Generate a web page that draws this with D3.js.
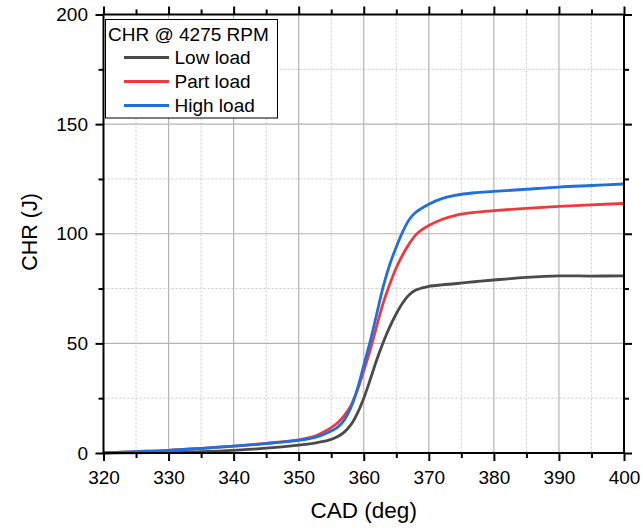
<!DOCTYPE html>
<html>
<head>
<meta charset="utf-8">
<script src="https://cdn.jsdelivr.net/npm/d3@7"></script>
<style>
  html, body { margin: 0; padding: 0; background: #fff; }
  svg { display: block; font-family: "Liberation Sans", Arial, sans-serif; }
</style>
</head>
<body>
<svg id="chart" width="643" height="531"></svg>
<script>
// Crank angle (deg) sample points and cumulative heat release (J) per load case
const cad = [320, 325, 330, 335, 340, 345, 350, 352, 353, 354, 355, 356, 357, 358, 359,
             360, 361, 362, 363, 364, 365, 366, 367, 368, 369, 370, 372, 374, 377, 380,
             385, 390, 395, 400];
const lowLoad = [0, 0.1, 0.3, 0.6, 1.2, 2.2, 3.6, 4.3, 4.8, 5.4, 6.2, 7.5, 9.5, 12.8, 18,
                 25, 33.5, 42.5, 50.5, 57.5, 63.5, 68.5, 72.2, 74.3, 75.3, 76, 76.7, 77.2, 78.1, 78.9,
                 80.1, 80.8, 80.7, 80.8];
const partLoad = [0, 0.6, 1.2, 2.1, 3.1, 4.4, 6, 7.2, 8.3, 9.8, 11.6, 13.8, 17, 21.5, 28.5,
                  37.5, 47, 58, 68.5, 77, 84.5, 90.5, 95.5, 99.5, 102, 103.8, 106.5, 108.3, 109.7, 110.5,
                  111.6, 112.5, 113.2, 113.8];
const highLoad = [0, 0.6, 1.2, 2.1, 3.1, 4.3, 5.8, 6.8, 7.6, 8.7, 10, 11.8, 15, 20.5, 29,
                  40, 51, 63.5, 76, 86, 94, 101, 106.5, 109.8, 111.8, 113.5, 116, 117.5, 118.7, 119.3,
                  120.3, 121.3, 122, 122.7];

const seriesNames = ["Low load", "Part load", "High load"];
const seriesColors = ["#4a4a4a", "#f0393d", "#1f6fde"];
const seriesValues = [lowLoad, partLoad, highLoad];

const xTicks = [320, 330, 340, 350, 360, 370, 380, 390, 400];
const yTicks = [0, 50, 100, 150, 200];
const legendTitle = "CHR @ 4275 RPM";
const xTitle = "CAD (deg)";
const yTitle = "CHR (J)";

const svg = d3.select("#chart");
const plotL = 103.5, plotR = 624, plotT = 14.5, plotB = 453;

const x = d3.scaleLinear().domain([320, 400]).range([plotL, plotR]);
const y = d3.scaleLinear().domain([0, 200]).range([plotB, plotT]);

const xMinor = d3.range(325, 400, 10);
const yMinor = d3.range(25, 200, 50);

// grid: dashed minor lines, solid major lines
const grid = svg.append("g");
grid.selectAll(".gxm").data(xMinor).join("line")
  .attr("x1", d => x(d)).attr("x2", d => x(d)).attr("y1", plotT).attr("y2", plotB)
  .attr("stroke", "#c8c8c8").attr("stroke-width", 1).attr("stroke-dasharray", "2,2");
grid.selectAll(".gym").data(yMinor).join("line")
  .attr("x1", plotL).attr("x2", plotR).attr("y1", d => y(d)).attr("y2", d => y(d))
  .attr("stroke", "#c8c8c8").attr("stroke-width", 1).attr("stroke-dasharray", "2,2");
grid.selectAll(".gx").data(xTicks.slice(1, -1)).join("line")
  .attr("x1", d => x(d)).attr("x2", d => x(d)).attr("y1", plotT).attr("y2", plotB)
  .attr("stroke", "#b4b4b4").attr("stroke-width", 1.2);
grid.selectAll(".gy").data(yTicks.slice(1, -1)).join("line")
  .attr("x1", plotL).attr("x2", plotR).attr("y1", d => y(d)).attr("y2", d => y(d))
  .attr("stroke", "#b4b4b4").attr("stroke-width", 1.2);

// curves
const line = d3.line().x(d => x(d[0])).y(d => y(d[1])).curve(d3.curveCatmullRom.alpha(0.5));
seriesValues.forEach((vals, i) => {
  svg.append("path")
    .datum(cad.map((c, j) => [c, vals[j]]))
    .attr("d", line)
    .attr("fill", "none")
    .attr("stroke", seriesColors[i])
    .attr("stroke-width", 2.8)
    .attr("stroke-linejoin", "round");
});

// axes on all four sides, ticks pointing outward
function styleAxis(g) {
  g.select(".domain").remove();
  g.selectAll("line").attr("stroke", "#000").attr("stroke-width", 2);
  g.selectAll("text").attr("font-size", 19).attr("fill", "#000")
    .attr("font-family", "'Liberation Sans', Arial, sans-serif");
}
const xAxisB = d3.axisBottom(x).tickValues(xTicks).tickSize(8).tickPadding(10).tickFormat(d3.format("d"));
const yAxisL = d3.axisLeft(y).tickValues(yTicks).tickSize(8).tickPadding(7.5).tickFormat(d3.format("d"));

svg.append("g").attr("transform", `translate(0,${plotB})`)
  .call(d3.axisBottom(x).tickValues(xMinor).tickSize(5).tickFormat("")).call(styleAxis);
svg.append("g").attr("transform", `translate(0,${plotB})`).call(xAxisB).call(styleAxis);
svg.append("g").attr("transform", `translate(0,${plotT})`)
  .call(d3.axisTop(x).tickValues(xMinor).tickSize(5).tickFormat("")).call(styleAxis);
svg.append("g").attr("transform", `translate(0,${plotT})`)
  .call(d3.axisTop(x).tickValues(xTicks).tickSize(8).tickFormat("")).call(styleAxis);
svg.append("g").attr("transform", `translate(${plotL},0)`)
  .call(d3.axisLeft(y).tickValues(yMinor).tickSize(5).tickFormat("")).call(styleAxis);
svg.append("g").attr("transform", `translate(${plotL},0)`).call(yAxisL).call(styleAxis);
svg.append("g").attr("transform", `translate(${plotR},0)`)
  .call(d3.axisRight(y).tickValues(yMinor).tickSize(5).tickFormat("")).call(styleAxis);
svg.append("g").attr("transform", `translate(${plotR},0)`)
  .call(d3.axisRight(y).tickValues(yTicks).tickSize(8).tickFormat("")).call(styleAxis);

// frame
svg.append("rect").attr("x", plotL).attr("y", plotT)
  .attr("width", plotR - plotL).attr("height", plotB - plotT)
  .attr("fill", "none").attr("stroke", "#000").attr("stroke-width", 2);

// axis titles
svg.append("text").attr("x", (plotL + plotR) / 2).attr("y", 518)
  .attr("text-anchor", "middle").attr("font-size", 22.5).text(xTitle);
svg.append("text").attr("transform", "translate(37,232) rotate(-90)")
  .attr("text-anchor", "middle").attr("font-size", 21.5).text(yTitle);

// legend
const lg = svg.append("g");
lg.append("rect").attr("x", 105.5).attr("y", 19.5).attr("width", 172).attr("height", 98.5)
  .attr("fill", "#fff").attr("stroke", "#000").attr("stroke-width", 1);
lg.append("text").attr("x", 108).attr("y", 40.5).attr("font-size", 19).text(legendTitle);
seriesNames.forEach((name, i) => {
  const ly = 57.5 + i * 24;
  lg.append("line").attr("x1", 124).attr("x2", 169).attr("y1", ly).attr("y2", ly)
    .attr("stroke", seriesColors[i]).attr("stroke-width", 3);
  lg.append("text").attr("x", 174.5).attr("y", ly + 6.5).attr("font-size", 19).text(name);
});
</script>
</body>
</html>
